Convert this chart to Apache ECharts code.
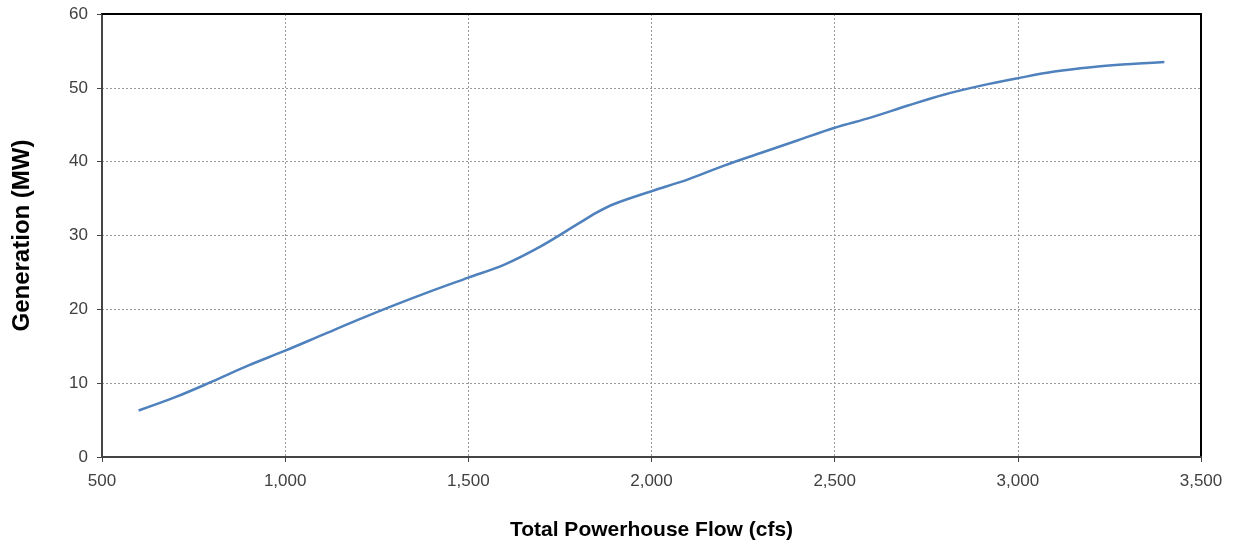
<!DOCTYPE html>
<html><head><meta charset="utf-8">
<script src="https://cdn.jsdelivr.net/npm/echarts@6/dist/echarts.min.js"></script>
<style>html,body{margin:0;padding:0;background:#fff}#c{width:1236px;height:546px}</style>
</head><body><div id="c"></div>
<script>
const flow = [600,700,800,900,1000,1100,1200,1300,1400,1500,1600,1700,1800,1850,1900,2000,2100,2200,2300,2400,2500,2600,2700,2800,2900,3000,3100,3200,3300,3400];
const generation = [6.3,8.1,10.2,12.4,14.4,16.5,18.6,20.6,22.5,24.3,26.1,28.6,31.6,33.1,34.3,36.0,37.6,39.5,41.2,42.9,44.6,46.0,47.6,49.1,50.3,51.3,52.2,52.8,53.2,53.5];
const xTitle = 'Total Powerhouse Flow (cfs)';
const yTitle = 'Generation (MW)';

const chart = echarts.init(document.getElementById('c'), null, {renderer:'canvas'});
const font = 'Liberation Sans, Arial, sans-serif';
const hidden = {axisLabel:{show:false},axisTick:{show:false},splitLine:{show:false}};
chart.setOption({
  animation:false,
  grid:{left:102,right:35,top:14,bottom:87},
  xAxis:[{type:'value',min:500,max:3500,interval:500,
    name:xTitle,nameLocation:'middle',nameGap:63,
    nameTextStyle:{fontFamily:font,fontSize:21,fontWeight:'bold',color:'#000'},
    axisLine:{onZero:false,lineStyle:{color:'#444',width:2}},
    axisTick:{show:true,length:5,lineStyle:{color:'#444'}},
    axisLabel:{fontFamily:font,fontSize:17,color:'#404040',margin:16,
      formatter:v=>v.toLocaleString('en-US')},
    splitLine:{show:true,lineStyle:{color:'#999',type:[2,2],width:1}}},
   Object.assign({type:'value',min:500,max:3500,position:'top',
    axisLine:{show:true,onZero:false,lineStyle:{color:'#000',width:2}}},hidden)],
  yAxis:[{type:'value',min:0,max:60,interval:10,
    name:yTitle,nameLocation:'middle',nameGap:68,
    nameTextStyle:{fontFamily:font,fontSize:24,fontWeight:'bold',color:'#000'},
    axisLine:{show:true,onZero:false,lineStyle:{color:'#444',width:2}},
    axisTick:{show:true,length:5,lineStyle:{color:'#444'}},
    axisLabel:{fontFamily:font,fontSize:17,color:'#404040',margin:14},
    splitLine:{show:true,lineStyle:{color:'#999',type:[2,2],width:1}}},
   Object.assign({type:'value',min:0,max:60,position:'right',
    axisLine:{show:true,onZero:false,lineStyle:{color:'#000',width:2}}},hidden)],
  series:[{type:'line',data:flow.map((f,i)=>[f,generation[i]]),
    smooth:0.35,symbol:'none',lineStyle:{color:'#4f81bd',width:2.5}}]
});
</script></body></html>
